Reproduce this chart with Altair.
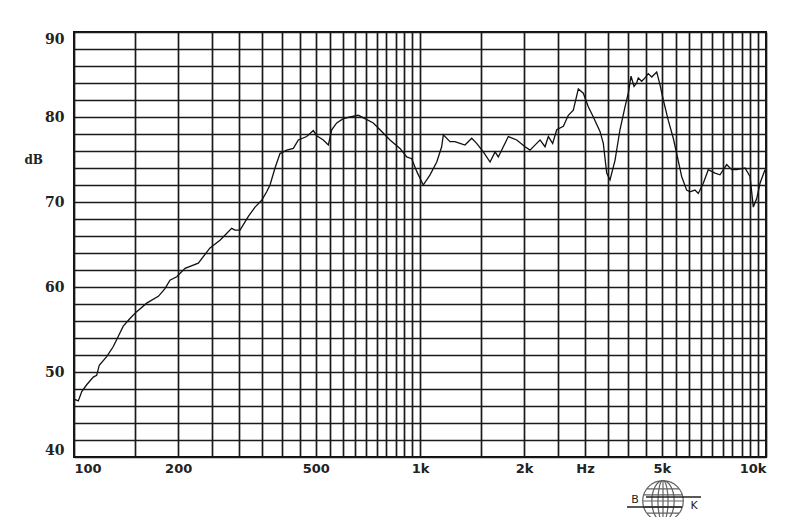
import altair as alt
import pandas as pd

# Frequency response
freq_hz = [100, 102.9, 105.3, 108.8, 113.7, 116.3, 118.3, 124.3, 129.9, 134.3,
           138.8, 145.1, 151.8, 162.2, 175.3, 183.2, 189.4, 198.1, 209.4, 228.7,
           247.2, 264.2, 285.6, 292.0, 301.9, 319.1, 333.6, 348.7, 360.5, 368.6,
           381.0, 393.9, 411.9, 430.4, 445.0, 470.5, 491.7, 502.9, 525.5, 543.3,
           555.7, 574.4, 600.3, 627.7, 663.3, 693.4, 732.8, 775.0, 819.0, 875.3,
           915.3, 946.3, 978.4, 1022, 1069, 1118, 1155, 1168, 1221, 1262,
           1305, 1349, 1411, 1458, 1524, 1594, 1648, 1684, 1741, 1800,
           1904, 2012, 2079, 2174, 2223, 2298, 2349, 2418, 2484, 2596,
           2683, 2774, 2868, 2965, 3065, 3169, 3313, 3387, 3464, 3541,
           3661, 3784, 3913, 4000, 4073, 4155, 4229, 4274, 4372, 4470,
           4568, 4674, 4832, 4938, 5049, 5219, 5396, 5519, 5705, 5898,
           6029, 6233, 6372, 6588, 6811, 7122, 7363, 7698, 7960, 8228,
           8697, 8991, 9190, 9400, 9610, 9934]
level_db = [46.8, 46.6, 47.7, 48.5, 49.4, 49.6, 50.8, 51.8, 53.0, 54.2,
            55.4, 56.3, 57.1, 58.1, 58.9, 59.8, 60.8, 61.2, 62.2, 62.8,
            64.6, 65.5, 66.9, 66.7, 66.7, 68.3, 69.4, 70.2, 71.2, 72.0,
            74.0, 75.7, 76.1, 76.3, 77.3, 77.7, 78.4, 77.8, 77.3, 76.7,
            78.5, 79.3, 79.8, 80.0, 80.2, 79.8, 79.3, 78.3, 77.3, 76.3,
            75.3, 75.1, 73.6, 72.0, 73.2, 74.7, 76.5, 77.9, 77.1, 77.1,
            76.9, 76.7, 77.5, 76.9, 75.9, 74.7, 75.9, 75.3, 76.5, 77.7,
            77.3, 76.5, 76.1, 76.9, 77.3, 76.5, 77.7, 76.9, 78.5, 78.9,
            80.2, 80.8, 83.3, 82.8, 81.2, 80.0, 78.3, 76.9, 73.4, 72.6,
            74.9, 78.5, 81.2, 82.8, 84.8, 83.6, 84.0, 84.6, 84.2, 84.6,
            85.1, 84.7, 85.3, 83.8, 82.0, 79.6, 77.5, 75.7, 73.0, 71.4,
            71.2, 71.4, 71.0, 72.2, 73.8, 73.4, 73.2, 74.4, 73.8, 73.8,
            74.0, 73.0, 69.4, 70.4, 72.2, 73.8]

# Grid lines and labels
x_grid = [100, 150] + list(range(200, 1001, 50)) + [1500] + list(range(2000, 10001, 500))
y_grid = list(range(40, 91, 2))
x_labels = {100: "100", 200: "200", 500: "500", 1000: "1k", 2000: "2k",
            3000: "\u00a0\u00a0\u00a0Hz", 5000: "5k", 10000: "10k"}
y_unit_label = "dB"
y_unit_at = 75

df = pd.DataFrame({"freq": freq_hz, "db": level_db})

label_expr = " : ".join(f"datum.value == {k} ? '{v}'" for k, v in x_labels.items()) + " : ''"

grid_color = "#1a1a1a"
ink = "#222222"

y_enc = alt.Y("db:Q",
              scale=alt.Scale(domain=[40, 90], nice=False, zero=False),
              axis=alt.Axis(values=y_grid,
                            labelExpr="datum.value % 10 == 0 ? datum.label : ''",
                            title=None, grid=True, gridColor=grid_color,
                            gridWidth=1.7, ticks=False, domain=False,
                            labelFlush=True, labelOverlap=False, labelPadding=10,
                            labelFont="DejaVu Serif", labelFontWeight="bold",
                            labelFontSize=14, labelColor=ink))

line = alt.Chart(df).mark_line(color="#111111", strokeWidth=1.3).encode(
    x=alt.X("freq:Q",
            scale=alt.Scale(type="log", domain=[100, 10000], nice=False),
            axis=alt.Axis(values=x_grid, labelExpr=label_expr, title=None,
                          grid=True, gridColor=grid_color, gridWidth=1.7,
                          ticks=False, domain=False, labelFlush=True,
                          labelOverlap=False, labelPadding=5,
                          labelFont="DejaVu Sans", labelFontWeight="bold",
                          labelFontSize=13, labelColor=ink)),
    y=y_enc,
)

unit = alt.Chart(pd.DataFrame({"db": [y_unit_at], "t": [y_unit_label]})).mark_text(
    font="DejaVu Serif", fontWeight="bold", fontSize=12, align="right",
    baseline="middle", color=ink
).encode(
    y=y_enc,
    x=alt.value(-31),
    text="t:N",
)

# B&K logo (decoration below the plot)
globe_path = ("M-1,0A1,1,0,1,0,1,0A1,1,0,1,0,-1,0Z"
              "M0,-1A0.55,1,0,1,0,0,1A0.55,1,0,1,0,0,-1Z"
              "M0,-1A0.25,1,0,1,0,0,1A0.25,1,0,1,0,0,-1Z"
              "M0,-1L0,1"
              "M-0.8,-0.6L0.8,-0.6M-0.95,-0.3L0.95,-0.3M-1,0L1,0"
              "M-0.95,0.3L0.95,0.3M-0.8,0.6L0.8,0.6")
logo_df = pd.DataFrame({"k": [0]})
globe = alt.Chart(logo_df).mark_point(
    shape=globe_path, filled=False, color=ink, strokeWidth=1.2, size=1650
).encode(x=alt.value(589), y=alt.value(469))
bar1 = alt.Chart(logo_df).mark_rule(color=ink, strokeWidth=1.6).encode(
    x=alt.value(553), x2=alt.value(608), y=alt.value(475))
bar2 = alt.Chart(logo_df).mark_rule(color=ink, strokeWidth=1.6).encode(
    x=alt.value(572), x2=alt.value(627), y=alt.value(465))
btxt = alt.Chart(pd.DataFrame({"t": ["B"]})).mark_text(
    font="DejaVu Sans", fontSize=11, fill=ink).encode(
    x=alt.value(561), y=alt.value(468), text="t:N")
ktxt = alt.Chart(pd.DataFrame({"t": ["K"]})).mark_text(
    font="DejaVu Sans", fontSize=11, fill=ink).encode(
    x=alt.value(620), y=alt.value(474), text="t:N")

chart = alt.layer(line, unit, globe, bar1, bar2, btxt, ktxt).properties(
    width=692, height=425,
    autosize=alt.AutoSizeParams(type="none"),
    padding={"left": 66, "top": 24, "right": 20, "bottom": 60},
    background="white",
).configure_view(stroke="#111111", strokeWidth=2)

chart.save("out.html", embed_options={"renderer": "svg", "actions": False})
